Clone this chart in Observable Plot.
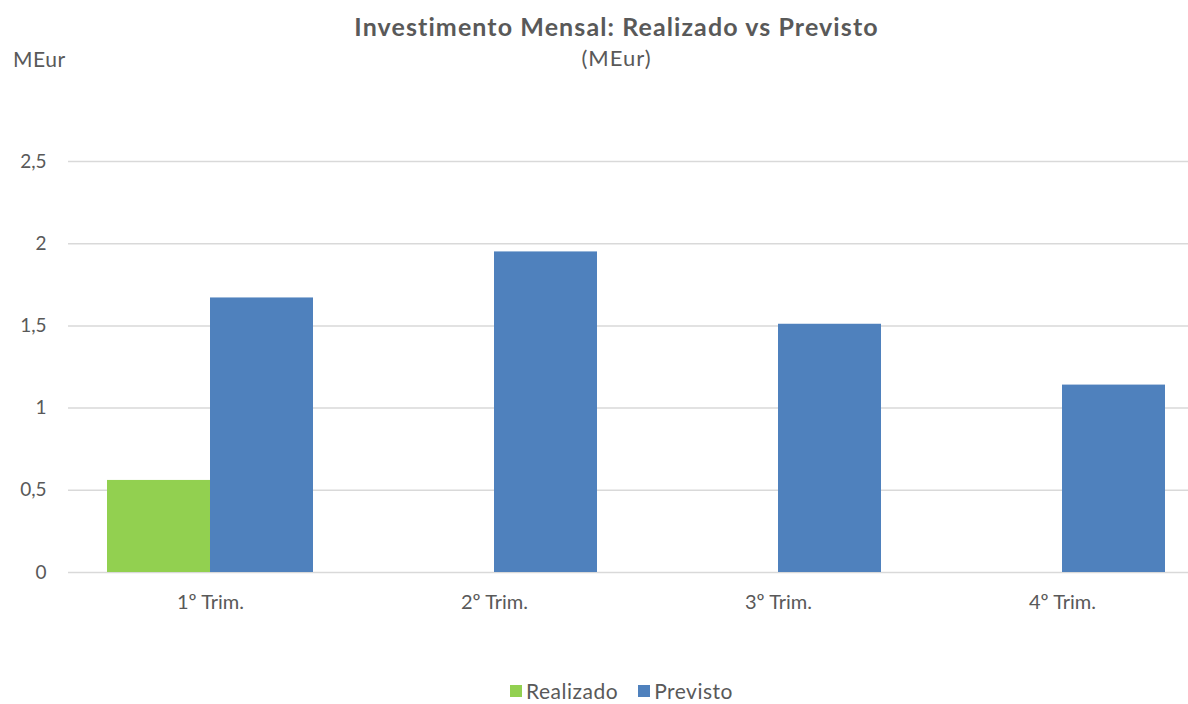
<!DOCTYPE html>
<html>
<head>
<meta charset="utf-8">
<script src="https://cdn.jsdelivr.net/npm/d3@7"></script>
<script src="https://cdn.jsdelivr.net/npm/@observablehq/plot@0.6"></script>
<style>
  html, body { margin: 0; padding: 0; background: #fff; overflow: hidden; }
  #wrap { position: relative; width: 1188px; height: 704px; overflow: hidden; font-family: Lato, "Open Sans", sans-serif; color: #595959; }
  #wrap svg { position: absolute; left: 0; top: 0; max-width: none !important; width: 1204px !important; height: 704px !important; }
  .t { position: absolute; white-space: nowrap; }
  #title { left: 0; width: 1233px; text-align: center; top: 11px; font-size: 25px; font-weight: bold; letter-spacing: 1.1px; }
  #sub { left: 0; width: 1233px; text-align: center; top: 44px; font-size: 22px; letter-spacing: 1px; }
  #unit { left: 13px; top: 46px; font-size: 21px; letter-spacing: 0.5px; }
  #legend { left: 0; width: 1243px; top: 678px; display: flex; justify-content: center; font-size: 21px; letter-spacing: 0.5px; }
  #legend span.sw { display: inline-block; width: 12px; height: 12px; margin-right: 4px; }
  #legend span.it { display: flex; align-items: center; margin: 0 10px; }
</style>
</head>
<body>
<div id="wrap">
  <div class="t" id="title">Investimento Mensal: Realizado vs Previsto</div>
  <div class="t" id="sub">(MEur)</div>
  <div class="t" id="unit">MEur</div>
  <div class="t" id="legend"></div>
</div>
<script>
const quarters = ["1º Trim.", "2º Trim.", "3º Trim.", "4º Trim."];
const series = ["Realizado", "Previsto"];
const realizado = [0.56, null, null, null];
const previsto = [1.67, 1.95, 1.51, 1.14];
const yTicks = [0, 0.5, 1, 1.5, 2, 2.5];
const colors = ["#92d050", "#4f81bd"];

const data = [];
quarters.forEach((q, i) => {
  if (realizado[i] != null) data.push({q, s: series[0], v: realizado[i]});
  if (previsto[i] != null) data.push({q, s: series[1], v: previsto[i]});
});

const fmt = d => String(d).replace(".", ",");

const chart = Plot.plot({
  width: 1204,
  height: 704,
  marginTop: 161,
  marginBottom: 132,
  marginLeft: 67,
  marginRight: 0,
  style: { fontFamily: "Lato, 'Open Sans', sans-serif", fontSize: "19px", color: "#595959", background: "transparent", maxWidth: "none" },
  fx: { domain: quarters, padding: 0, label: null },
  x: { domain: series, paddingInner: 0, paddingOuter: 0.37, axis: null },
  y: { domain: [0, 2.5], ticks: yTicks, label: null },
  color: { domain: series, range: colors },
  marks: [
    Plot.ruleY(yTicks, { stroke: "#d9d9d9", strokeWidth: 1.5 }),
    Plot.barY(data, { fx: "q", x: "s", y: "v", fill: "s", inset: 0 }),
    Plot.axisY(yTicks, { tickSize: 0, tickPadding: 22, tickFormat: fmt, fontSize: 19, fill: "#595959", label: null }),
    Plot.axisFx({ anchor: "bottom", tickSize: 0, tickPadding: 22, fontSize: 20, fill: "#595959", label: null, style: "letter-spacing: 0.5px" })
  ]
});
document.getElementById("wrap").appendChild(chart);

const leg = document.getElementById("legend");
series.forEach((s, i) => {
  const it = document.createElement("span");
  it.className = "it";
  const sw = document.createElement("span");
  sw.className = "sw";
  sw.style.background = colors[i];
  it.appendChild(sw);
  it.appendChild(document.createTextNode(s));
  leg.appendChild(it);
});
</script>
</body>
</html>
